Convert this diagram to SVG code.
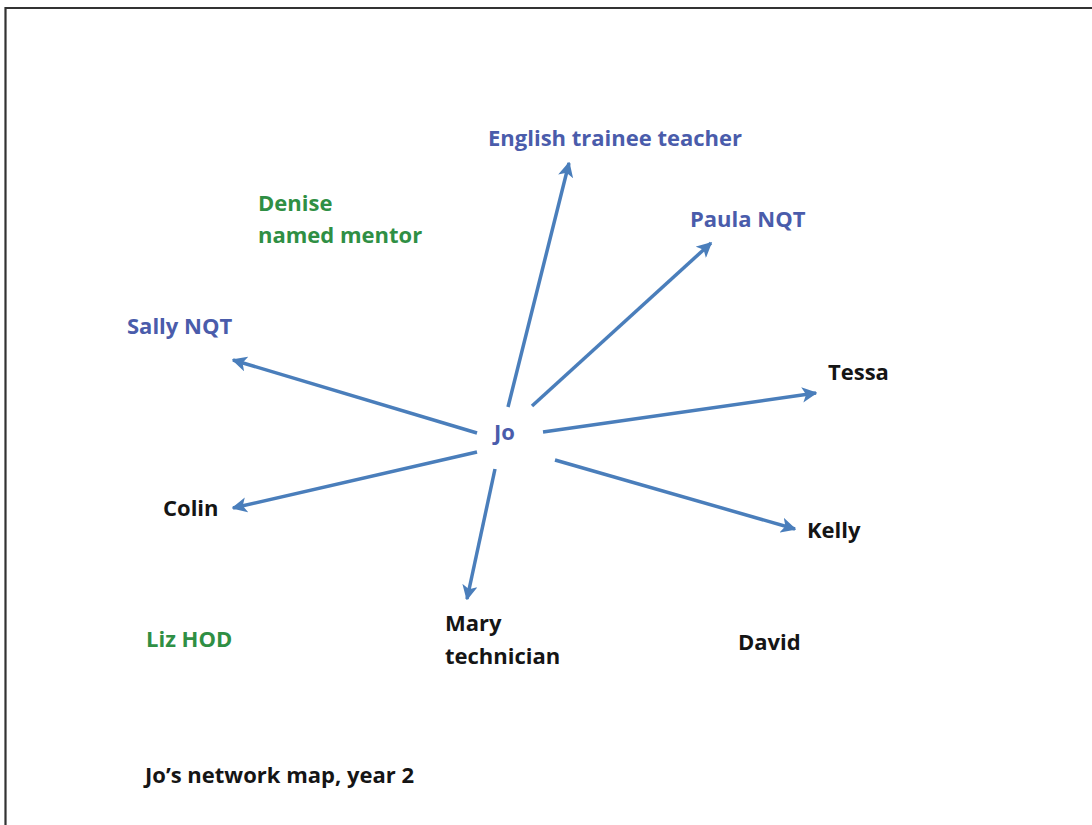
<svg xmlns="http://www.w3.org/2000/svg" width="1092" height="825" viewBox="0 0 1092 825">
  <defs>
    <marker id="head" viewBox="0 0 10 10" refX="9" refY="5" markerWidth="4.4" markerHeight="4.4" markerUnits="strokeWidth" orient="auto">
      <path d="M0,0 L10,5 L0,10 L2.5,5 Z" fill="#4a7ebb"/>
    </marker>
  </defs>
  <style>
    text { font-family: "Open Sans", "Liberation Sans", sans-serif; font-weight: 700; font-size: 22px; }
    .blue { fill: #4a5cab; }
    .green { fill: #2f8f44; }
    .black { fill: #151515; }
    .link { stroke: #4a7ebb; stroke-width: 3.5; fill: none; marker-end: url(#head); }
  </style>
  <rect width="1092" height="825" fill="#ffffff"/>
  <path d="M5.5,825 V8 H1092" fill="none" stroke="#333" stroke-width="2.2"/>

  <g id="connectors">
    <line class="link" x1="508" y1="407" x2="569" y2="163"/>
    <line class="link" x1="532" y1="406" x2="711" y2="243"/>
    <line class="link" x1="543" y1="432" x2="816" y2="393"/>
    <line class="link" x1="477" y1="433" x2="233" y2="360"/>
    <line class="link" x1="477" y1="452" x2="233" y2="508"/>
    <line class="link" x1="495" y1="469" x2="467" y2="599"/>
    <line class="link" x1="555" y1="460" x2="795" y2="529"/>
  </g>

  <g id="node-jo"><text class="blue" x="494" y="440">Jo</text></g>
  <g id="node-english"><text class="blue" x="488" y="146">English trainee teacher</text></g>
  <g id="node-paula"><text class="blue" x="690" y="227">Paula NQT</text></g>
  <g id="node-sally"><text class="blue" x="127" y="334">Sally NQT</text></g>
  <g id="node-denise">
    <text class="green" x="258" y="211">Denise</text>
    <text class="green" x="258" y="243">named mentor</text>
  </g>
  <g id="node-tessa"><text class="black" x="828" y="380">Tessa</text></g>
  <g id="node-colin"><text class="black" x="163" y="516">Colin</text></g>
  <g id="node-kelly"><text class="black" x="807" y="538">Kelly</text></g>
  <g id="node-mary">
    <text class="black" x="445" y="631">Mary</text>
    <text class="black" x="445" y="664">technician</text>
  </g>
  <g id="node-liz"><text class="green" x="146" y="647">Liz HOD</text></g>
  <g id="node-david"><text class="black" x="738" y="650">David</text></g>
  <g id="caption"><text class="black" x="145" y="783">Jo’s network map, year 2</text></g>
</svg>
